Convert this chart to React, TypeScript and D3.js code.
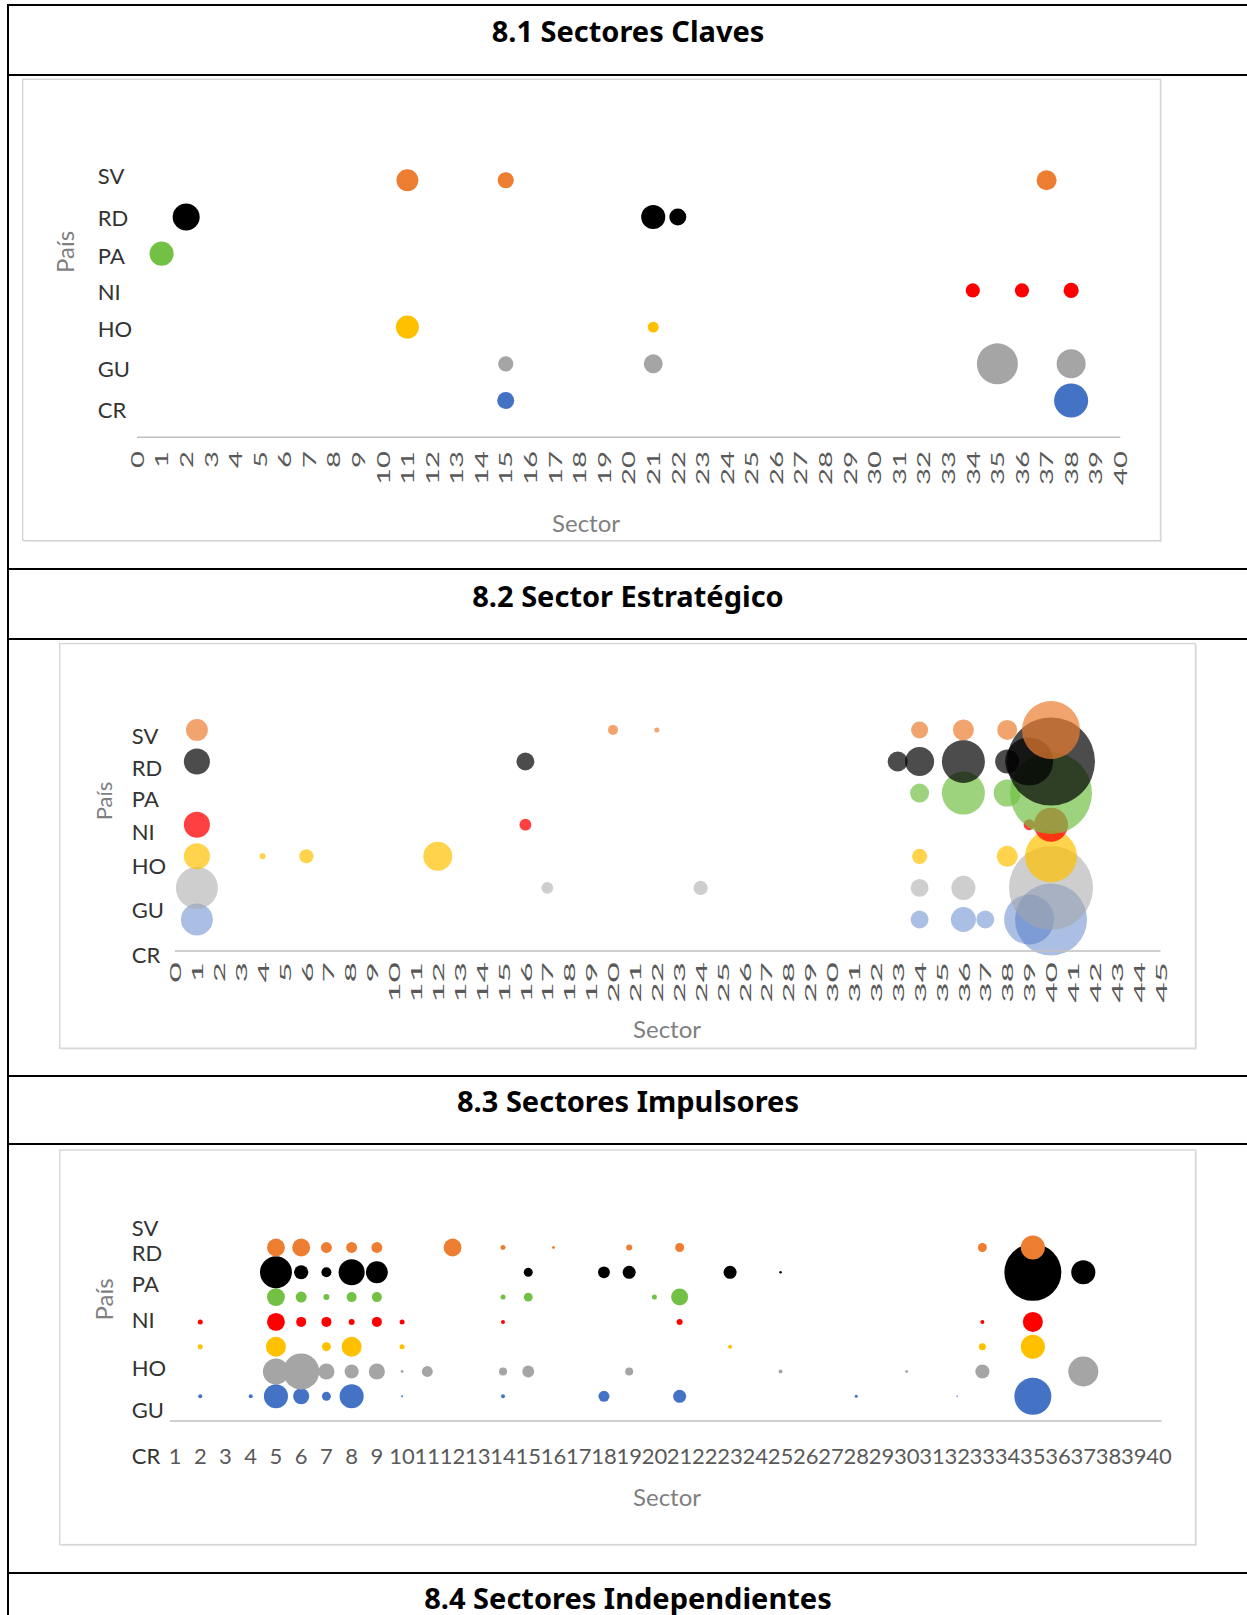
import React from 'react';
import * as d3 from 'd3';

type Pt = [number, number]; // [sector, tamaño]

// ---------- categorías ----------
const paises = ['CR', 'GU', 'HO', 'NI', 'PA', 'RD', 'SV']; // fila 1..7
const colores = ['#4472C4', '#A5A5A5', '#FFC000', '#FF0000', '#72C145', '#000000', '#ED7D31'];
const opacidadEstrategico = [0.45, 0.55, 0.7, 0.75, 0.7, 0.7, 0.7];
const titulos = ['8.1 Sectores Claves', '8.2 Sector Estratégico', '8.3 Sectores Impulsores', '8.4 Sectores Independientes'];

// ---------- 8.1 Sectores Claves ----------
const claves_CR: Pt[] = [[15, 29], [38, 116]];
const claves_GU: Pt[] = [[15, 23], [21, 36], [35, 168], [38, 84]];
const claves_HO: Pt[] = [[11, 53], [21, 12]];
const claves_NI: Pt[] = [[34, 20], [36, 20], [38, 23]];
const claves_PA: Pt[] = [[1, 58]];
const claves_RD: Pt[] = [[2, 73], [21, 58], [22, 29]];
const claves_SV: Pt[] = [[11, 48], [15, 26], [37, 40]];
const clavesEtiquetasY = [0.75, 1.87, 2.96, 3.97, 4.95, 5.99, 7.14];
const clavesTicks = d3.range(0, 41);

// ---------- 8.2 Sector Estratégico ----------
const estr_CR: Pt[] = [[1, 102], [34, 32], [36, 63], [37, 32], [39, 250], [40, 518]];
const estr_GU: Pt[] = [[1, 176], [17, 14], [24, 20], [34, 32], [36, 58], [40, 706]];
const estr_HO: Pt[] = [[1, 68], [4, 3.6], [6, 20], [12, 84], [34, 23], [38, 44], [40, 270]];
const estr_NI: Pt[] = [[1, 68], [16, 14], [39, 12], [40, 116]];
const estr_PA: Pt[] = [[34, 36], [36, 185], [38, 73], [40, 672]];
const estr_RD: Pt[] = [[1, 68], [16, 32], [33, 40], [34, 84], [36, 185], [38, 58], [39, 230], [40, 774]];
const estr_SV: Pt[] = [[1, 48], [20, 10], [22, 2.5], [34, 29], [36, 44], [38, 40], [40, 336]];
const estrEtiquetasY = [-0.11, 1.32, 2.72, 3.8, 4.84, 5.82, 6.83];
const estrTicks = d3.range(0, 46);

// ---------- 8.3 Sectores Impulsores ----------
const imp_CR: Pt[] = [[2, 1.6], [4, 1.6], [5, 58], [6, 26], [7, 8], [8, 58], [10, 0.4], [14, 1.6], [18, 12], [21, 17], [28, 0.9], [32, 0.2], [35, 137]];
const imp_GU: Pt[] = [[5, 68], [6, 130], [7, 26], [8, 20], [9, 26], [10, 0.9], [11, 12], [14, 6.4], [15, 14], [19, 6.4], [25, 1.6], [30, 0.9], [33, 20], [37, 90]];
const imp_HO: Pt[] = [[2, 2.5], [5, 40], [7, 8], [8, 40], [10, 2.5], [23, 1.6], [33, 5], [35, 58]];
const imp_NI: Pt[] = [[2, 2.5], [5, 32], [6, 10], [7, 10], [8, 3.6], [9, 10], [10, 2.5], [14, 1.6], [21, 3.6], [33, 1.6], [35, 40]];
const imp_PA: Pt[] = [[5, 32], [6, 12], [7, 3.6], [8, 10], [9, 10], [14, 2.5], [15, 8], [20, 2.5], [21, 29]];
const imp_RD: Pt[] = [[5, 102], [6, 20], [7, 10], [8, 68], [9, 48], [15, 8], [18, 14], [19, 17], [23, 17], [25, 0.6], [35, 325], [37, 58]];
const imp_SV: Pt[] = [[5, 32], [6, 32], [7, 12], [8, 12], [9, 12], [12, 32], [14, 2.5], [16, 0.9], [19, 3.6], [21, 8], [33, 8], [35, 58]];
const impEtiquetasY = [-1.37, 0.46, 2.17, 4.08, 5.53, 6.81, 7.81];
const impTicks = d3.range(1, 41);

const clavesSeries = [claves_CR, claves_GU, claves_HO, claves_NI, claves_PA, claves_RD, claves_SV];
const estrSeries = [estr_CR, estr_GU, estr_HO, estr_NI, estr_PA, estr_RD, estr_SV];
const impSeries = [imp_CR, imp_GU, imp_HO, imp_NI, imp_PA, imp_RD, imp_SV];

const rScale = d3.scaleSqrt().domain([0, 100]).range([0, 15.81]);

const FONT = 'Lato, "Open Sans", sans-serif';

type Cfg = {
  box: [number, number, number, number];
  xDomain: [number, number];
  xRange: [number, number];
  yRange: [number, number];
  axisFrom: number;
  axisTo: number;
  yLabelX: number;
  yLabelSize: number;
  pais: [number, number, number];
  sector: [number, number, number];
  tickMode: 'rot' | 'hor';
  tickY: number;
  tickSize: number;
  tickStretch: number;
};

const cfg1: Cfg = {
  box: [22.7, 79.3, 1160.5, 540.6],
  xDomain: [0, 40], xRange: [137, 1120.3],
  yRange: [437.3, 180.2],
  axisFrom: 0, axisTo: 40,
  yLabelX: 97.8, yLabelSize: 22,
  pais: [64, 252, 24], sector: [586, 522, 24],
  tickMode: 'rot', tickY: 451, tickSize: 17, tickStretch: 1.72,
};
const cfg2: Cfg = {
  box: [59.7, 643.6, 1195.5, 1048.2],
  xDomain: [0, 45], xRange: [175, 1160.5],
  yRange: [951.1, 729.9],
  axisFrom: 0, axisTo: 45,
  yLabelX: 131.8, yLabelSize: 22,
  pais: [103, 801, 22], sector: [667, 1028, 24],
  tickMode: 'rot', tickY: 962, tickSize: 16, tickStretch: 2.2,
};
const cfg3: Cfg = {
  box: [59.7, 1150, 1195.5, 1544.6],
  xDomain: [0, 40], xRange: [149.8, 1159],
  yRange: [1421.1, 1247.5],
  axisFrom: 0.8, axisTo: 40.1,
  yLabelX: 131.8, yLabelSize: 22,
  pais: [103, 1299.5, 24], sector: [667, 1496, 24],
  tickMode: 'hor', tickY: 1455, tickSize: 22, tickStretch: 1,
};

function BubbleChart({ cfg, series, opac, labelPos, ticks }: {
  cfg: Cfg; series: Pt[][]; opac: number[]; labelPos: number[]; ticks: number[];
}) {
  const x = d3.scaleLinear().domain(cfg.xDomain).range(cfg.xRange);
  const y = d3.scaleLinear().domain([0, 7]).range(cfg.yRange);
  const [bx0, by0, bx1, by1] = cfg.box;
  return (
    <g>
      <rect x={bx0 + 1.5} y={by0 + 1.5} width={bx1 - bx0} height={by1 - by0} fill="#ececec" />
      <rect x={bx0} y={by0} width={bx1 - bx0} height={by1 - by0} fill="#fff" stroke="#d6d6d6" strokeWidth={1.4} />
      {series.map((pts, si) =>
        [...pts].sort((a, b) => b[1] - a[1]).map((p, i) => (
          <circle key={`${si}-${i}`} cx={x(p[0])} cy={y(si + 1)} r={Math.max(rScale(p[1]), 0.6)}
            fill={colores[si]} fillOpacity={opac[si]} />
        ))
      )}
      <line x1={x(cfg.axisFrom)} x2={x(cfg.axisTo)} y1={y(0)} y2={y(0)} stroke="#bfbfbf" strokeWidth={1.5} />
      {ticks.map((t) =>
        cfg.tickMode === 'rot' ? (
          <text key={t} transform={`translate(${x(t)},${cfg.tickY}) rotate(-90) scale(${cfg.tickStretch},1)`}
            textAnchor="end" dominantBaseline="central" fontFamily={FONT} fontSize={cfg.tickSize} fill="#595959">{t}</text>
        ) : (
          <text key={t} x={x(t)} y={cfg.tickY} textAnchor="middle" dominantBaseline="central"
            fontFamily={FONT} fontSize={cfg.tickSize} fill="#595959">{t}</text>
        )
      )}
      {paises.map((p, i) => (
        <text key={p} x={cfg.yLabelX} y={y(labelPos[i])} dominantBaseline="central" fontFamily={FONT}
          fontSize={cfg.yLabelSize} fill="#333">{p}</text>
      ))}
      <text transform={`translate(${cfg.pais[0]},${cfg.pais[1]}) rotate(-90)`} textAnchor="middle" dominantBaseline="central"
        fontFamily={FONT} fontSize={cfg.pais[2]} fill="#7f7f7f">País</text>
      <text x={cfg.sector[0]} y={cfg.sector[1]} textAnchor="middle" dominantBaseline="central"
        fontFamily={FONT} fontSize={cfg.sector[2]} fill="#7f7f7f">Sector</text>
    </g>
  );
}

const filas = [5, 75, 569, 639, 1076, 1144, 1573];
const tituloY = [30, 595, 1100.7, 1597];

export default function App() {
  const opaco = [1, 1, 1, 1, 1, 1, 1];
  return (
    <svg width={1247} height={1615} style={{ position: 'absolute', left: 0, top: 0, background: '#fff' }}>
      <rect x={0} y={0} width={1247} height={1615} fill="#fff" />
      <BubbleChart cfg={cfg1} series={clavesSeries} opac={opaco} labelPos={clavesEtiquetasY} ticks={clavesTicks} />
      <BubbleChart cfg={cfg2} series={estrSeries} opac={opacidadEstrategico} labelPos={estrEtiquetasY} ticks={estrTicks} />
      <BubbleChart cfg={cfg3} series={impSeries} opac={opaco} labelPos={impEtiquetasY} ticks={impTicks} />
      {filas.map((fy, i) => (
        <line key={i} x1={7} x2={1247} y1={fy} y2={fy} stroke="#000" strokeWidth={2} />
      ))}
      <line x1={8} x2={8} y1={4} y2={1615} stroke="#000" strokeWidth={2} />
      {titulos.map((t, i) => (
        <text key={t} x={628} y={tituloY[i]} textAnchor="middle" dominantBaseline="central"
          fontFamily='"Noto Sans", "Open Sans", sans-serif' fontWeight={700} fontSize={29} fill="#000">{t}</text>
      ))}
    </svg>
  );
}
